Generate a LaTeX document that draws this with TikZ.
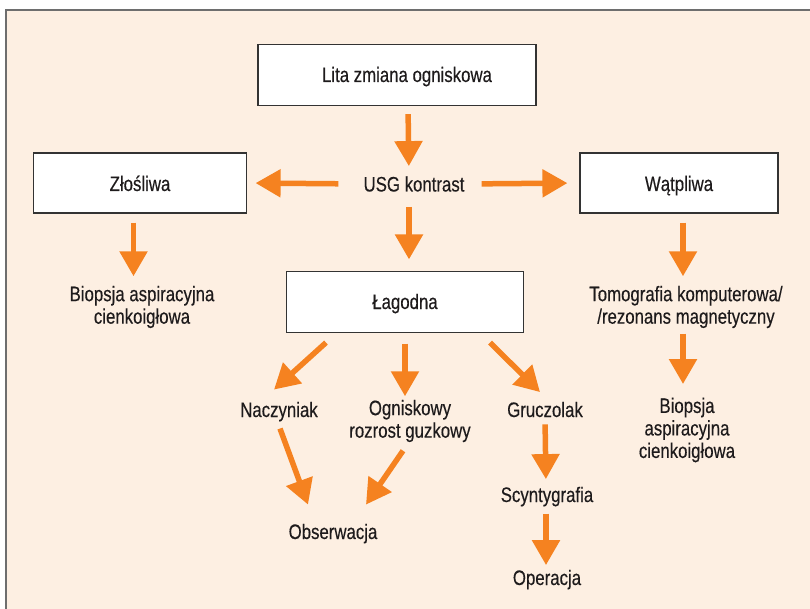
\documentclass[tikz,border=0pt]{standalone}
\usepackage{fontspec}
\setmainfont[FakeStretch=0.8,FakeBold=0.3]{Liberation Sans}
\usetikzlibrary{arrows.meta,positioning}
\definecolor{tlo}{RGB}{253,239,226}
\definecolor{pom}{RGB}{245,130,32}
\definecolor{ramka}{RGB}{110,110,110}
\definecolor{tekst}{RGB}{30,27,28}
\tikzset{
  box/.style={draw=black!80, line width=1.2pt, fill=white},
  txt/.style={inner sep=0pt, align=center, text=tekst},
  arr/.style={draw=pom, line width=5.5pt, -{Triangle[length=25pt,width=27pt]}},
}

\begin{document}
\begin{tikzpicture}[x=1pt, y=-1pt, font=\fontsize{21}{22.5}\selectfont]
    \useasboundingbox (0,0) rectangle (810,609);
    % background with frame
    \fill [tlo] (6,10) rectangle (810,609);
    \draw [ramka, line width=1.6pt] (6,609) -- (6,10) -- (810,10);

    % boxes
    \node [box, minimum width=278pt, minimum height=61pt] (lita) at (397,75) {};
    \node [box, minimum width=213pt, minimum height=60pt] (zl) at (140,183) {};
    \node [box, minimum width=198pt, minimum height=60pt] (wat) at (679,183) {};
    \node [box, minimum width=237pt, minimum height=61pt] (lag) at (405,302) {};

    % texts
    \node [txt, anchor=base] (litat) at (407,82) {Lita zmiana ogniskowa};
    \node [txt, anchor=base] (zlt) at (140,191) {Złośliwa};
    \node [txt, anchor=base] (watt) at (679,191) {Wątpliwa};
    \node [txt, anchor=base] (usg) at (414,191.5) {USG kontrast};
    \node [txt, anchor=base] (lagt) at (405,309) {Łagodna};
    \node [txt] (bz) at (142,307) {Biopsja aspiracyjna\\cienkoigłowa};
    \node [txt] (tk) at (686,307) {Tomografia komputerowa/\\/rezonans magnetyczny};
    \node [txt] (bw) at (687,430) {Biopsja\\aspiracyjna\\cienkoigłowa};
    \node [txt, anchor=base] (nac) at (279,417) {Naczyniak};
    \node [txt] (ogn) at (410,421) {Ogniskowy\\rozrost guzkowy};
    \node [txt, anchor=base] (gru) at (545,417) {Gruczolak};
    \node [txt, anchor=base] (obs) at (333,539) {Obserwacja};
    \node [txt, anchor=base] (scy) at (547,502) {Scyntygrafia};
    \node [txt, anchor=base] (ope) at (547,585) {Operacja};

    % arrows
    \draw [arr, shorten <=8pt, shorten >=10pt] ([xshift=11pt]lita.south) -- ([xshift=-5pt]usg.north);
    \draw [arr, shorten <=25pt, shorten >=8.5pt] (usg.west) -- (zl.east);
    \draw [arr, shorten <=17pt, shorten >=12pt] (usg.east) -- (wat.west);
    \draw [arr, shorten <=15pt, shorten >=11.5pt] ([xshift=-5pt]usg.south) -- ([xshift=4pt]lag.north);
    \draw [arr, shorten <=9pt, shorten >=9.5pt] ([xshift=-6.5pt]zl.south) -- ([xshift=-8.5pt]bz.north);
    \draw [arr, shorten <=9pt, shorten >=9.5pt] ([xshift=4pt]wat.south) -- ([xshift=-3pt]tk.north);
    \draw [arr, shorten <=5.5pt, shorten >=13.5pt] ([xshift=-3pt]tk.south) -- ([xshift=-4pt]bw.north);
    \draw [arr] ([shift={(-79,9.5)}]lag.south) -- ([shift={(-5,-12)}]nac.north);
    \draw [arr, shorten <=10.5pt, shorten >=3.5pt] (lag.south) -- ([xshift=-5pt]ogn.north);
    \draw [arr] ([shift={(85,9.5)}]lag.south) -- ([shift={(-5,-9.5)}]gru.north);
    \draw [arr] ([shift={(1,7)}]nac.south) -- ([shift={(-25,-19)}]obs.north);
    \draw [arr] ([shift={(-7,8.5)}]ogn.south) -- ([shift={(33,-19)}]obs.north);
    \draw [arr, shorten <=7pt, shorten >=7.5pt] (gru.south) -- ([xshift=-1pt]scy.north);
    \draw [arr, shorten <=7pt, shorten >=4.5pt] ([xshift=-1pt]scy.south) -- ([xshift=-1pt]ope.north);
\end{tikzpicture}
\end{document}
